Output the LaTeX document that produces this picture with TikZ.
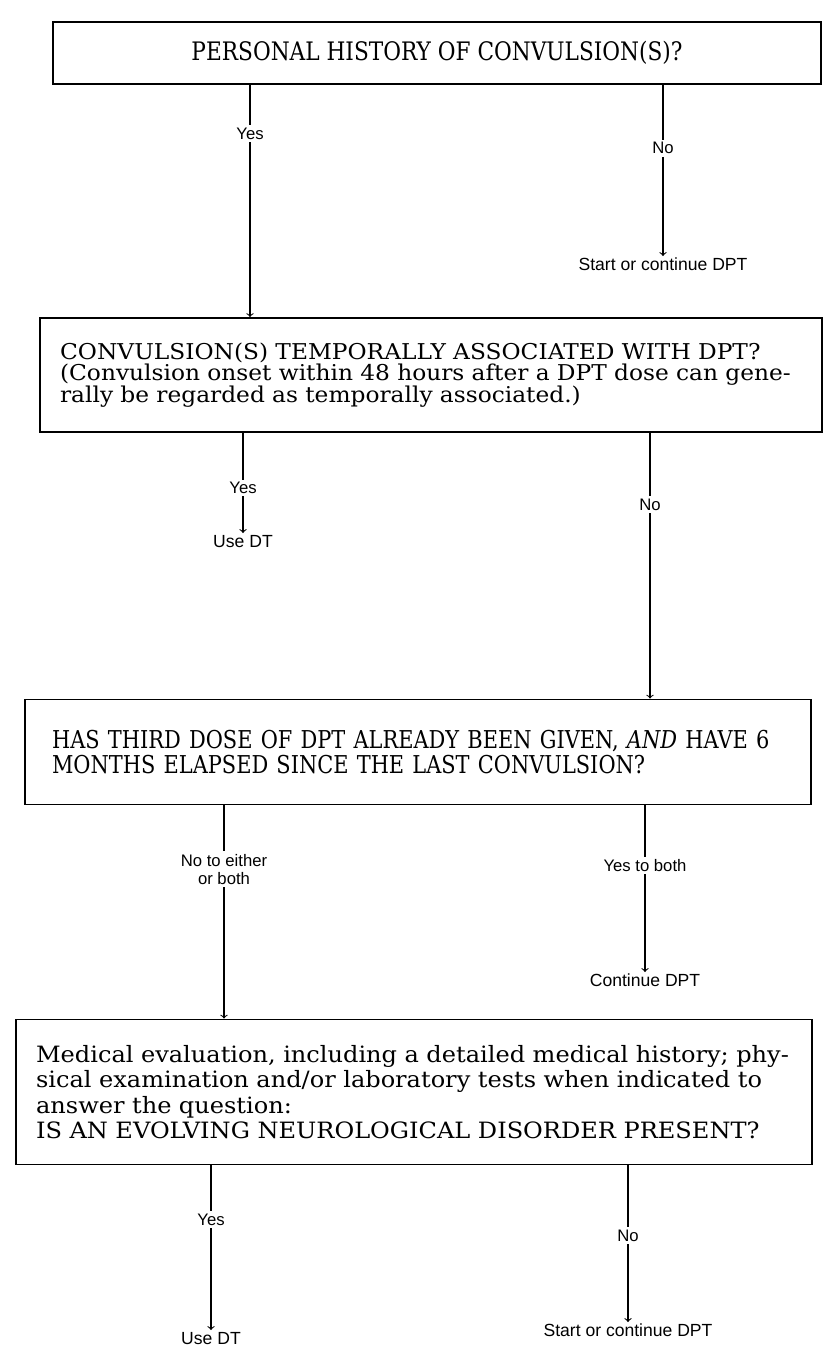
\documentclass[tikz,border=0pt]{standalone}
\usepackage{fontspec}
\setmainfont{DejaVu Serif}
\newfontfamily\headfont{DejaVu Serif}[FakeStretch=0.85]
\newfontfamily\evalfont{DejaVu Serif}[FakeStretch=1.07]
\newfontfamily\lblfont{Liberation Sans}

\begin{document}
\begin{tikzpicture}[x=0.02cm, y=-0.02cm]
\tikzset{
    qbox/.style={rectangle, draw, line width=1.1pt, inner ysep=0pt},
    lbl/.style={fill=white, inner sep=1.5pt, align=center, font=\lblfont\fontsize{9.5}{10.5}\selectfont},
    outcome/.style={inner sep=1pt, font=\lblfont\fontsize{10}{11}\selectfont},
    conn/.style={->, line width=0.6pt}
}
\useasboundingbox (0,0) rectangle (824,1349);

  % question boxes
  \node[qbox, minimum width=15.38cm, minimum height=1.24cm, font=\headfont\fontsize{14.5}{15}\selectfont] (history) at (437,53)
    {PERSONAL HISTORY OF CONVULSION(S)?};
  \node[qbox, minimum height=2.28cm, inner xsep=0.4cm, text width=14.84cm, align=left,
        font=\evalfont\fontsize{12.4}{12.4}\selectfont] (temporal) at (431,375)
    {CONVULSION(S) TEMPORALLY ASSOCIATED WITH DPT?\\
     (Convulsion onset within 48 hours after a DPT dose can gene-\\
     rally be regarded as temporally associated.)};
  \node[qbox, minimum height=2.1cm, inner xsep=0.55cm, text width=14.64cm, align=left,
        font=\headfont\fontsize{14}{14}\selectfont] (thirddose) at (418,752)
    {HAS THIRD DOSE OF DPT ALREADY BEEN GIVEN, \textit{AND} HAVE 6\\
     MONTHS ELAPSED SINCE THE LAST CONVULSION?};
  \node[qbox, minimum height=2.9cm, inner xsep=0.4cm, text width=15.12cm, align=left,
        font=\evalfont\fontsize{12.8}{14.4}\selectfont] (evaluation) at (414,1092)
    {Medical evaluation, including a detailed medical history; phy-\\
     sical examination and/or laboratory tests when indicated to\\
     answer the question:\\
     IS AN EVOLVING NEUROLOGICAL DISORDER PRESENT?};

  % outcomes
  \node[outcome, anchor=north] (start1) at (663,256) {Start or continue DPT};
  \node[outcome, anchor=north] (usedt1) at (243,533) {Use DT};
  \node[outcome, anchor=north] (contdpt) at (645,972) {Continue DPT};
  \node[outcome, anchor=north] (usedt2) at (211,1330) {Use DT};
  \node[outcome, anchor=north] (start2) at (628,1322) {Start or continue DPT};

  % connectors
  \draw[conn] (history.south -| 250,0) -- node[lbl, pos=0.21] {Yes} (temporal.north -| 250,0);
  \draw[conn] (history.south -| start1.north) -- node[lbl, pos=0.37] {No} (start1.north);
  \draw[conn] (temporal.south -| usedt1.north) -- node[lbl, pos=0.55] {Yes} (usedt1.north);
  \draw[conn] (temporal.south -| 650,0) -- node[lbl, pos=0.27] {No} (thirddose.north -| 650,0);
  \draw[conn] (thirddose.south -| 224,0) -- node[lbl, pos=0.3] {No to either\\or both} (evaluation.north -| 224,0);
  \draw[conn] (thirddose.south -| contdpt.north) -- node[lbl, pos=0.36] {Yes to both} (contdpt.north);
  \draw[conn] (evaluation.south -| usedt2.north) -- node[lbl, pos=0.33] {Yes} (usedt2.north);
  \draw[conn] (evaluation.south -| start2.north) -- node[lbl, pos=0.45] {No} (start2.north);
\end{tikzpicture}
\end{document}
